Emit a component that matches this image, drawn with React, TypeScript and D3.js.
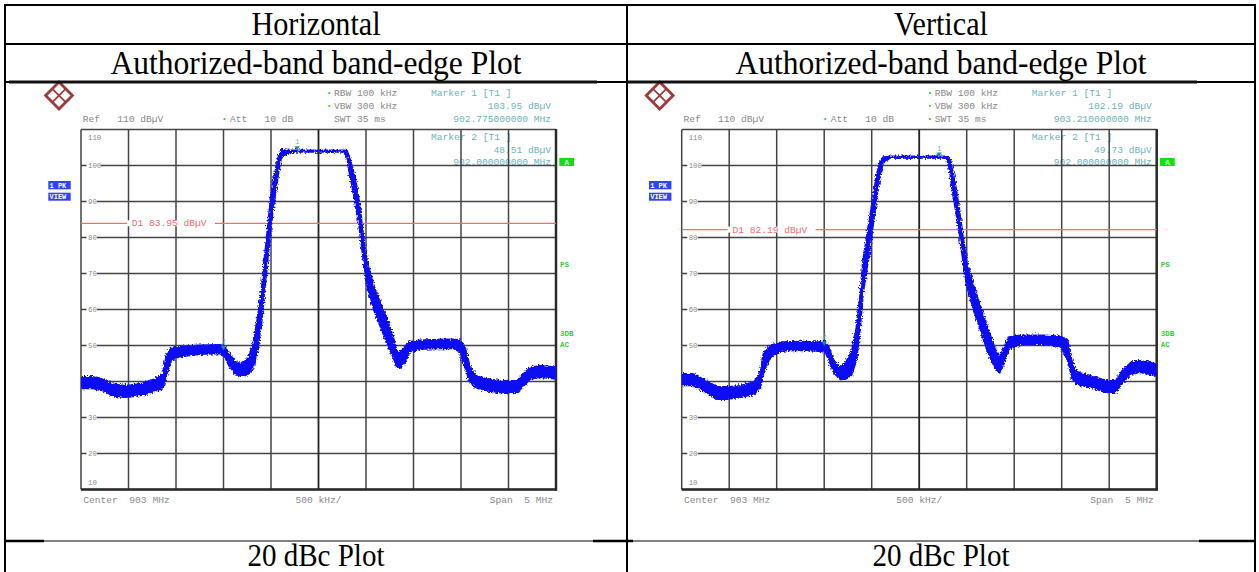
import React from 'react';
import * as d3 from 'd3';

// ---- table text ----
const polarizations = ['Horizontal', 'Vertical'];
const plotTitle = 'Authorized-band band-edge Plot';
const footerTitle = '20 dBc Plot';

// ---- analyzer axes ----
const levelTicks = [110, 100, 90, 80, 70, 60, 50, 40, 30, 20, 10];
const freqGrid = [900.5, 901.0, 901.5, 902.0, 902.5, 903.0, 903.5, 904.0, 904.5, 905.0, 905.5];

// ---- horizontal polarization trace: frequency (MHz), level (dBµV), noise half-width (dB) ----
const hFreq = [
  900.5, 900.62, 900.73, 900.83, 900.97, 901.15, 901.29, 901.36, 901.4, 901.45, 901.54, 901.75,
  901.96, 902.01, 902.06, 902.13, 902.19, 902.26, 902.31, 902.36, 902.4, 902.43, 902.47, 902.5,
  902.52, 902.58, 902.61, 902.68, 902.74, 903.26, 903.3, 903.33, 903.38, 903.42, 903.45, 903.48,
  903.52, 903.59, 903.66, 903.73, 903.79, 903.82, 903.86, 903.91, 903.96, 904.07, 904.24, 904.42,
  904.49, 904.54, 904.59, 904.65, 904.77, 904.91, 905.09, 905.16, 905.23, 905.33, 905.5,
];
const hLevel = [
  39.7, 39.7, 39.1, 37.7, 37.2, 37.9, 39.1, 40.0, 44.6, 47.7, 48.3, 48.8,
  49.0, 48.5, 46.0, 43.7, 43.2, 44.2, 47.0, 53.4, 60.8, 69.2, 79.4, 87.5,
  91.3, 100.6, 103.4, 103.8, 104.0, 104.0, 103.3, 99.7, 94.0, 88.0, 82.0, 75.5,
  69.0, 62.7, 58.0, 53.4, 49.3, 46.5, 46.0, 47.4, 49.7, 50.2, 50.4, 50.5,
  49.7, 47.0, 42.3, 40.0, 39.1, 38.6, 38.6, 40.5, 42.3, 42.8, 42.3,
];
const hSpread = [
  1.6, 1.6, 1.6, 1.6, 1.6, 1.6, 1.7, 2.0, 2.8, 1.7, 1.4, 1.2,
  1.2, 1.4, 1.7, 1.7, 1.7, 2.2, 3.2, 4.5, 4.5, 4.5, 4.5, 4.5,
  3.8, 2.2, 1.0, 0.3, 0.2, 0.2, 0.8, 2.2, 3.3, 3.3, 3.3, 3.3,
  3.3, 3.3, 3.3, 3.3, 2.8, 2.2, 2.2, 2.0, 1.4, 1.2, 1.2, 1.2,
  1.7, 2.8, 2.2, 1.6, 1.6, 1.6, 1.6, 1.7, 1.6, 1.6, 1.6,
];

// ---- vertical polarization trace ----
const vFreq = [
  900.5, 900.62, 900.76, 900.87, 900.97, 901.11, 901.26, 901.33, 901.36, 901.43, 901.54, 901.75,
  901.92, 902.0, 902.05, 902.1, 902.17, 902.22, 902.29, 902.34, 902.38, 902.41, 902.47, 902.51,
  902.55, 902.59, 902.62, 902.69, 903.29, 903.32, 903.36, 903.4, 903.43, 903.46, 903.5, 903.57,
  903.64, 903.72, 903.79, 903.84, 903.89, 903.94, 904.07, 904.31, 904.49, 904.56, 904.61, 904.66,
  904.8, 904.98, 905.07, 905.14, 905.23, 905.33, 905.5,
];
const vLevel = [
  40.5, 40.5, 38.6, 36.8, 36.8, 37.2, 38.1, 40.5, 45.1, 48.3, 49.7, 49.9,
  49.7, 49.7, 47.9, 44.2, 42.3, 42.8, 45.1, 50.6, 59.9, 69.2, 79.4, 86.5,
  94.0, 99.5, 101.5, 102.3, 102.3, 100.5, 94.5, 88.5, 83.0, 77.0, 70.0, 63.6,
  58.0, 51.6, 47.0, 44.6, 47.0, 50.6, 51.6, 51.6, 51.1, 48.8, 43.2, 40.9,
  40.0, 38.6, 38.6, 41.4, 43.7, 44.2, 43.2,
];
const vSpread = [
  1.6, 1.6, 1.6, 1.7, 1.7, 1.6, 1.7, 2.0, 2.8, 1.7, 1.2, 1.2,
  1.2, 1.4, 1.7, 1.7, 1.7, 2.2, 3.2, 4.5, 4.5, 4.5, 4.5, 3.8,
  3.3, 1.7, 0.8, 0.2, 0.2, 1.7, 3.3, 3.3, 3.3, 3.3, 3.3, 3.3,
  3.3, 3.3, 2.8, 2.2, 2.2, 1.7, 1.2, 1.2, 1.4, 2.8, 2.2, 1.7,
  1.6, 1.6, 1.6, 1.7, 1.6, 1.6, 1.6,
];

// ---- markers and display lines ----
const hMarkerFreq = [902.775, 902.0];
const hMarkerLevel = [103.95, 48.51];
const vMarkerFreq = [903.21, 902.0];
const vMarkerLevel = [102.19, 49.73];
const hDisplayLine = 83.95;
const vDisplayLine = 82.19;

const MONO = '"Liberation Mono", "DejaVu Sans Mono", monospace';
const SERIF = '"Liberation Serif", "Times New Roman", serif';
const GRAY = '#8a8a8a';
const TEAL = '#6fb4bb';
const GREEN = '#2fd12f';
const RED = '#f46e6e';
const TRACE = '#1010f5';
const GRID = '#444';

type PanelProps = {
  id: string;
  left: number;
  top: number;
  freq: number[];
  level: number[];
  spread: number[];
  markerFreq: number[];
  markerLevel: number[];
  displayLine: number;
  swtStar: boolean;
};

function Panel({ id, left, top, freq, level, spread, markerFreq, markerLevel, displayLine, swtStar }: PanelProps) {
  const gw = 475;
  const gh = 360;
  const x = d3.scaleLinear().domain([freqGrid[0], freqGrid[freqGrid.length - 1]]).range([left, left + gw]);
  const y = d3.scaleLinear().domain([10, 110]).range([top + gh, top]);
  const pts = freq.map((f, i) => ({ f, l: level[i], s: spread[i] }));
  const band = d3
    .area<{ f: number; l: number; s: number }>()
    .x((d) => x(d.f))
    .y0((d) => y(d.l - d.s))
    .y1((d) => y(d.l + d.s));
  const line = d3
    .line<{ f: number; l: number; s: number }>()
    .x((d) => x(d.f))
    .y((d) => y(d.l));
  const centerF = (freqGrid[0] + freqGrid[freqGrid.length - 1]) / 2;
  const span = freqGrid[freqGrid.length - 1] - freqGrid[0];
  const perDiv = ((freqGrid[1] - freqGrid[0]) * 1000).toFixed(0);
  const dlY = y(displayLine);
  const mx = (t: number) => left + t;
  const logoX = left - 22;
  const logoY = top - 34;

  return (
    <g>
      <defs>
        <clipPath id={`clip-${id}`}>
          <rect x={left} y={top} width={gw} height={gh} />
        </clipPath>
        <filter id={`fuzz-${id}`} x="-5%" y="-5%" width="110%" height="110%">
          <feTurbulence type="fractalNoise" baseFrequency="0.6" numOctaves="2" seed="3" />
          <feDisplacementMap in="SourceGraphic" scale="5" xChannelSelector="R" yChannelSelector="G" />
        </filter>
      </defs>

      {/* Rohde & Schwarz logo */}
      <g transform={`translate(${logoX},${logoY}) rotate(45)`}>
        <rect x={-9.5} y={-9.5} width={19} height={19} fill="#fff" stroke="#9c3b3b" strokeWidth={2.8} />
        <line x1={0} y1={-9} x2={0} y2={9} stroke="#9c3b3b" strokeWidth={1.8} />
        <line x1={-9} y1={0} x2={9} y2={0} stroke="#9c3b3b" strokeWidth={1.8} />
      </g>

      {/* header settings */}
      <g fontFamily={MONO} fontSize={9.6} fill={GRAY}>
        <text x={mx(1.7)} y={top - 7.5} xmlSpace="preserve">{'Ref   110 dB\u00b5V'}</text>
        <text x={mx(149)} y={top - 7.5} xmlSpace="preserve">{'Att   10 dB'}</text>
        <text x={mx(253)} y={top - 33.5} xmlSpace="preserve">{'RBW 100 kHz'}</text>
        <text x={mx(253)} y={top - 20.5} xmlSpace="preserve">{'VBW 300 kHz'}</text>
        <text x={mx(253)} y={top - 7.5} xmlSpace="preserve">{'SWT 35 ms'}</text>
      </g>
      <g fill={GREEN}>
        <circle cx={mx(143.5)} cy={top - 10.5} r={1.1} />
        <circle cx={mx(248.3)} cy={top - 36.5} r={1.1} />
        <circle cx={mx(248.3)} cy={top - 23.5} r={1.1} />
        {swtStar && <circle cx={mx(248.3)} cy={top - 10.5} r={1.1} />}
      </g>

      {/* marker readouts */}
      <g fontFamily={MONO} fontSize={9.6} fill={TEAL}>
        <text x={mx(350)} y={top - 33.5} xmlSpace="preserve">{'Marker 1 [T1 ]'}</text>
        <text x={mx(470)} y={top - 20.5} textAnchor="end">{`${markerLevel[0].toFixed(2)} dB\u00b5V`}</text>
        <text x={mx(470)} y={top - 7.5} textAnchor="end">{`${markerFreq[0].toFixed(9)} MHz`}</text>
        <text x={mx(350)} y={top + 10.5} xmlSpace="preserve">{'Marker 2 [T1 ]'}</text>
        <text x={mx(470)} y={top + 23.5} textAnchor="end">{`${markerLevel[1].toFixed(2)} dB\u00b5V`}</text>
        <text x={mx(470)} y={top + 35.5} textAnchor="end">{`${markerFreq[1].toFixed(9)} MHz`}</text>
      </g>

      {/* side annotations */}
      <rect x={mx(478.3)} y={top + 28.5} width={14.7} height={8} fill="#12e012" />
      <text x={mx(485.6)} y={top + 35.4} textAnchor="middle" fontFamily={MONO} fontSize={8} fontWeight="bold" fill="#c8ffc8">A</text>
      <rect x={left - 32.7} y={top + 51.5} width={22.4} height={8.3} fill="#2c44ff" />
      <rect x={left - 32.7} y={top + 63.2} width={22.4} height={8} fill="#2c44ff" />
      <g fontFamily={MONO} fontSize={7} fontWeight="bold" fill="#fff">
        <text x={left - 31.5} y={top + 58.3} xmlSpace="preserve">1 PK</text>
        <text x={left - 31.5} y={top + 69.8}>VIEW</text>
      </g>
      <g fontFamily={MONO} fontSize={7.5} fontWeight="bold" fill={GREEN}>
        <text x={mx(479)} y={top + 137.5}>PS</text>
        <text x={mx(479)} y={top + 206}>3DB</text>
        <text x={mx(479)} y={top + 217.5}>AC</text>
      </g>

      {/* graticule */}
      <g stroke={GRID} strokeWidth={1.5}>
        {levelTicks.map((t) => (
          <line key={`h${t}`} x1={left} x2={left + gw} y1={y(t)} y2={y(t)} />
        ))}
        {freqGrid.map((f, i) => (
          <line key={`v${f}`} x1={x(f)} x2={x(f)} y1={top} y2={top + gh} stroke={i === 5 ? '#222' : GRID} strokeWidth={i === 5 ? 1.8 : 1.5} />
        ))}
      </g>
      <line x1={left + gw} x2={left + gw} y1={top - 0.5} y2={top + gh + 1} stroke="#2a2a2a" strokeWidth={2.5} />
      <line x1={left} x2={left + gw + 1} y1={top + gh} y2={top + gh} stroke="#2a2a2a" strokeWidth={2.5} />

      {/* level labels */}
      <g fontFamily={MONO} fontSize={7.4} fill={GRAY}>
        {levelTicks.map((t, i) => {
          const edge = i === 0 || i === levelTicks.length - 1;
          const ty = i === 0 ? y(t) + 10 : i === levelTicks.length - 1 ? y(t) - 5 : y(t) + 2.6;
          return (
            <g key={`l${t}`}>
              {!edge && <rect x={left + 5.5} y={y(t) - 2} width={t >= 100 ? 14.5 : 10.5} height={4} fill="#fff" />}
              <text x={left + 7} y={ty}>{t}</text>
            </g>
          );
        })}
      </g>

      {/* display line D1 */}
      <line x1={left} x2={left + gw} y1={dlY} y2={dlY} stroke={RED} strokeWidth={1.3} />
      <rect x={mx(46)} y={dlY - 3} width={88} height={6} fill="#fff" />
      <text x={mx(50.7)} y={dlY + 3} fontFamily={MONO} fontSize={9.6} fill={RED} xmlSpace="preserve">
        {`D1 ${displayLine.toFixed(2)} dB\u00b5V`}
      </text>

      {/* trace */}
      <g clipPath={`url(#clip-${id})`}>
        <g filter={`url(#fuzz-${id})`}>
          <path d={band(pts) ?? ''} fill={TRACE} stroke={TRACE} strokeWidth={1.8} strokeLinejoin="round" />
          <path d={line(pts) ?? ''} fill="none" stroke={TRACE} strokeWidth={2} />
        </g>
      </g>

      {/* markers */}
      {markerFreq.map((f, i) => (
        <g key={`m${i}`}>
          <path
            d={`M${x(f) - 2.6},${y(markerLevel[i]) - 5} L${x(f) + 2.6},${y(markerLevel[i]) - 5} L${x(f)},${y(markerLevel[i]) - 0.5} Z`}
            fill="#1f8f8f"
          />
          <text x={x(f)} y={y(markerLevel[i]) - 7} textAnchor="middle" fontFamily={MONO} fontSize={7.4} fill={TEAL}>
            {i + 1}
          </text>
        </g>
      ))}

      {/* footer */}
      <g fontFamily={MONO} fontSize={9.6} fill={GRAY}>
        <text x={left + 2.3} y={top + gh + 13} xmlSpace="preserve">{`Center  ${centerF.toFixed(0)} MHz`}</text>
        <text x={x(centerF)} y={top + gh + 13} textAnchor="middle">{`${perDiv} kHz/`}</text>
        <text x={left + gw - 3} y={top + gh + 13} textAnchor="end" xmlSpace="preserve">{`Span  ${span.toFixed(0)} MHz`}</text>
      </g>
    </g>
  );
}

export default function App() {
  const W = 1259;
  const H = 572;
  const colX = [5, 627, 1255];
  const rowY = [5, 44, 82, 541];
  const cellCenters = [(colX[0] + colX[1]) / 2, (colX[1] + colX[2]) / 2];
  // heading text is set slightly tall, so it is stretched vertically about its baseline
  const tall = (cx: number, by: number) => `translate(${cx},${by}) scale(1,1.08)`;
  return (
    <div style={{ position: 'fixed', left: 0, top: 0 }}>
      <svg width={W} height={H} style={{ display: 'block', background: '#fff' }}>
        <rect width={W} height={H} fill="#fff" />

        <Panel
          id="h"
          left={81}
          top={129.5}
          freq={hFreq}
          level={hLevel}
          spread={hSpread}
          markerFreq={hMarkerFreq}
          markerLevel={hMarkerLevel}
          displayLine={hDisplayLine}
          swtStar={false}
        />
        <Panel
          id="v"
          left={681.7}
          top={129.5}
          freq={vFreq}
          level={vLevel}
          spread={vSpread}
          markerFreq={vMarkerFreq}
          markerLevel={vMarkerLevel}
          displayLine={vDisplayLine}
          swtStar={true}
        />

        {/* table rules */}
        <g stroke="#000" strokeWidth={2}>
          {rowY.slice(0, 3).map((ry) => (
            <line key={`r${ry}`} x1={colX[0] - 1} x2={colX[2] + 1} y1={ry} y2={ry} />
          ))}
          {colX.map((cx) => (
            <line key={`c${cx}`} x1={cx} x2={cx} y1={rowY[0] - 1} y2={H} />
          ))}
        </g>
        <g stroke="#111" strokeWidth={3}>
          <line x1={9} x2={597} y1={82} y2={82} />
          <line x1={627} x2={1197} y1={82} y2={82} />
        </g>
        {/* rule under the screenshot row: heavy where it is not covered by the images */}
        <line x1={colX[0]} x2={colX[2]} y1={rowY[3]} y2={rowY[3]} stroke="#000" strokeWidth={1.2} />
        <g stroke="#000" strokeWidth={2.6}>
          <line x1={colX[0]} x2={44} y1={rowY[3]} y2={rowY[3]} />
          <line x1={593} x2={633} y1={rowY[3]} y2={rowY[3]} />
          <line x1={1199} x2={colX[2]} y1={rowY[3]} y2={rowY[3]} />
        </g>

        {/* table headings */}
        <g fontFamily={SERIF} fill="#000" textAnchor="middle">
          {polarizations.map((p, i) => (
            <g key={p}>
              <text transform={tall(cellCenters[i], 35)} fontSize={30.2}>{p}</text>
              <text transform={tall(cellCenters[i], 73.5)} fontSize={31.5}>{plotTitle}</text>
              <text transform={tall(cellCenters[i], 565.5)} fontSize={29}>{footerTitle}</text>
            </g>
          ))}
        </g>
      </svg>
    </div>
  );
}
